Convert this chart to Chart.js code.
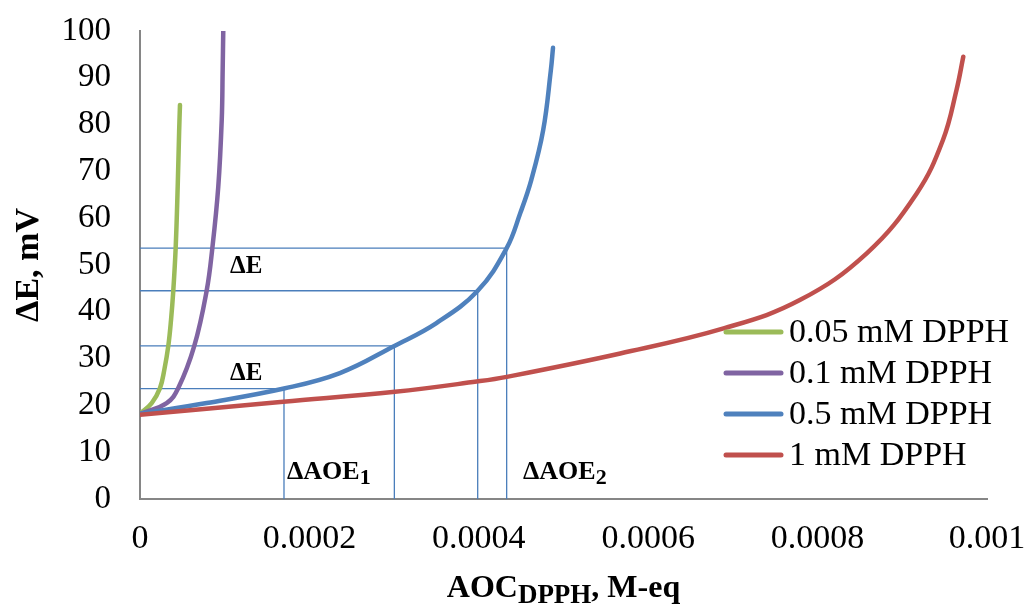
<!DOCTYPE html>
<html>
<head>
<meta charset="utf-8">
<script src="https://cdn.jsdelivr.net/npm/chart.js@4.4.0/dist/chart.umd.min.js"></script>
<style>
    html, body { margin: 0; padding: 0; background: #fff; }
</style>
</head>
<body>
<canvas id="chart" width="1027" height="606"></canvas>
<script>
const seriesLabels = ['0.05 mM DPPH', '0.1 mM DPPH', '0.5 mM DPPH', '1 mM DPPH'];
const seriesColors = ['#9bbb59', '#8064a2', '#4f81bd', '#c0504d'];

// AOC (M-eq) and ΔE (mV)
const aoc005 = [0, 0.0000138, 0.0000236, 0.0000287, 0.0000334, 0.0000366, 0.0000393, 0.0000421, 0.0000445, 0.0000462, 0.0000472];
const dE005 = [18.2, 20.5, 23.7, 27.6, 32.7, 38.2, 44.5, 53.6, 66.7, 78.5, 84.2];

const aoc01 = [0, 0.0000315, 0.0000452, 0.0000641, 0.0000787, 0.0000854, 0.0000924, 0.0000965, 0.0000976, 0.0000983];
const dE01 = [18.2, 20.5, 23.7, 32.7, 44.5, 53.6, 66.7, 81, 91.7, 100];

const aoc05 = [0, 0.0000787, 0.000170, 0.000236, 0.0003003, 0.000350, 0.0003987, 0.0004329, 0.000449, 0.000462, 0.000476, 0.000485, 0.0004876];
const dE05 = [18.2, 20.5, 23.6, 26.9, 32.7, 37.6, 44.5, 53.6, 61.1, 68.2, 78.8, 91.5, 96.4];

const aoc1 = [0, 0.0000787, 0.000169, 0.000301, 0.0003975, 0.000433, 0.000567, 0.000690, 0.000779, 0.000858, 0.000917, 0.000948, 0.000964, 0.000972];
const dE1 = [18.0, 19.3, 20.8, 22.9, 25.1, 26.1, 31.1, 36.5, 42.5, 52.5, 65.3, 76.7, 87.4, 94.5];

// guide lines dropped from the 0.5 mM curve
const guideAoc = [0.000170, 0.0003003, 0.0003987, 0.0004329];
const guideDE = [23.6, 32.7, 44.5, 53.6];

const xTickValues = [0, 0.0002, 0.0004, 0.0006, 0.0008, 0.001];
const xTickLabels = ['0', '0.0002', '0.0004', '0.0006', '0.0008', '0.001'];
const yTickValues = [0, 10, 20, 30, 40, 50, 60, 70, 80, 90, 100];

const notes = [
    { text: 'ΔE', sub: '', x: 0.0001063, y: 48.2 },
    { text: 'ΔE', sub: '', x: 0.0001063, y: 25.4 },
    { text: 'ΔAOE', sub: '1', x: 0.0001736, y: 4.27 },
    { text: 'ΔAOE', sub: '2', x: 0.0004522, y: 4.27 },
];

const serif = "'Liberation Serif', 'Times New Roman', serif";

const toPoints = (xs, ys) => xs.map((x, i) => ({ x: x, y: ys[i] }));

const curveSets = [[aoc005, dE005], [aoc01, dE01], [aoc05, dE05], [aoc1, dE1]].map(([xs, ys], i) => ({
    label: seriesLabels[i],
    data: toPoints(xs, ys),
    borderColor: seriesColors[i],
    borderWidth: 4.5,
    borderCapStyle: 'round',
    borderJoinStyle: 'round',
    tension: 0.4,
    pointRadius: 0,
    order: 3 - i,
}));

const guideSets = guideAoc.map((x, i) => ({
    label: 'guide' + i,
    data: [{ x: 0, y: guideDE[i] }, { x: x, y: guideDE[i] }, { x: x, y: 0 }],
    borderColor: '#4a7ebb',
    borderWidth: 1.3,
    tension: 0,
    pointRadius: 0,
    order: 10,
}));

const drawSubText = (ctx, text, sub, x, y, size, subSize, drop) => {
    ctx.font = 'bold ' + size + 'px ' + serif;
    ctx.fillText(text, x, y);
    const w = ctx.measureText(text).width;
    if (sub) {
        ctx.font = 'bold ' + subSize + 'px ' + serif;
        ctx.fillText(sub, x + w, y + drop);
    }
};

const notesPlugin = {
    id: 'notes',
    afterDatasetsDraw(chart) {
        const { ctx, scales } = chart;
        ctx.save();
        ctx.fillStyle = '#000';
        ctx.textBaseline = 'alphabetic';
        ctx.textAlign = 'left';
        notes.forEach((n) => {
            const px = scales.x.getPixelForValue(n.x);
            const py = scales.y.getPixelForValue(n.y);
            drawSubText(ctx, n.text, n.sub, px, py, n.sub ? 26 : 25, 22, 5);
        });
        ctx.restore();
    },
};

const legendPlugin = {
    id: 'sideLegend',
    afterDraw(chart) {
        const { ctx } = chart;
        ctx.save();
        ctx.textBaseline = 'middle';
        ctx.textAlign = 'left';
        ctx.font = '34px ' + serif;
        curveSets.forEach((ds, i) => {
            const y = 332 + i * 41;
            ctx.strokeStyle = ds.borderColor;
            ctx.lineWidth = 5;
            ctx.lineCap = 'round';
            ctx.beginPath();
            ctx.moveTo(726, y);
            ctx.lineTo(781, y);
            ctx.stroke();
            ctx.fillStyle = '#000';
            ctx.fillText(ds.label, 789, y + 1);
        });
        ctx.restore();
    },
};

const xTitlePlugin = {
    id: 'xTitle',
    afterDraw(chart) {
        const { ctx, chartArea } = chart;
        ctx.save();
        ctx.fillStyle = '#000';
        ctx.textBaseline = 'alphabetic';
        ctx.textAlign = 'left';
        const parts = [['AOC', 32, 0], ['DPPH', 27, 6], [', M-eq', 32, 0]];
        const widths = parts.map(([t, s]) => {
            ctx.font = 'bold ' + s + 'px ' + serif;
            return ctx.measureText(t).width;
        });
        const total = widths.reduce((a, b) => a + b, 0);
        let x = (chartArea.left + chartArea.right) / 2 - total / 2;
        parts.forEach(([t, s, drop], i) => {
            ctx.font = 'bold ' + s + 'px ' + serif;
            ctx.fillText(t, x, 597 + drop);
            x += widths[i];
        });
        ctx.restore();
    },
};

new Chart(document.getElementById('chart').getContext('2d'), {
    type: 'line',
    data: { datasets: [...curveSets, ...guideSets] },
    options: {
        responsive: false,
        animation: false,
        devicePixelRatio: 1,
        layout: { padding: { top: 31, right: 40, bottom: 0, left: 0 } },
        plugins: {
            legend: { display: false },
            tooltip: { enabled: false },
        },
        scales: {
            x: {
                type: 'linear',
                min: 0,
                max: 0.001,
                afterBuildTicks: (scale) => {
                    scale.ticks = xTickValues.map((v) => ({ value: v }));
                },
                afterFit: (scale) => {
                    scale.height = 107;
                    scale.paddingLeft = 0;
                    scale.paddingRight = 0;
                },
                ticks: {
                    callback: (value, index) => xTickLabels[index],
                    font: { family: serif, size: 34 },
                    color: '#000',
                    padding: 20,
                    maxRotation: 0,
                    autoSkip: false,
                },
                grid: { display: false, drawTicks: false },
                border: { display: true, color: '#868686', width: 2 },
            },
            y: {
                type: 'linear',
                min: 0,
                max: 100,
                afterBuildTicks: (scale) => {
                    scale.ticks = yTickValues.map((v) => ({ value: v }));
                },
                afterFit: (scale) => {
                    scale.width = 140;
                    scale.paddingTop = 0;
                    scale.paddingBottom = 0;
                },
                ticks: {
                    font: { family: serif, size: 33 },
                    color: '#000',
                    padding: 29,
                    autoSkip: false,
                },
                grid: { display: false, drawTicks: false },
                border: { display: true, color: '#868686', width: 2 },
                title: {
                    display: true,
                    text: 'ΔE, mV',
                    font: { family: serif, size: 34, weight: 'bold' },
                    color: '#000',
                    padding: { top: 9, bottom: 0 },
                },
            },
        },
    },
    plugins: [notesPlugin, legendPlugin, xTitlePlugin],
});
</script>
</body>
</html>
